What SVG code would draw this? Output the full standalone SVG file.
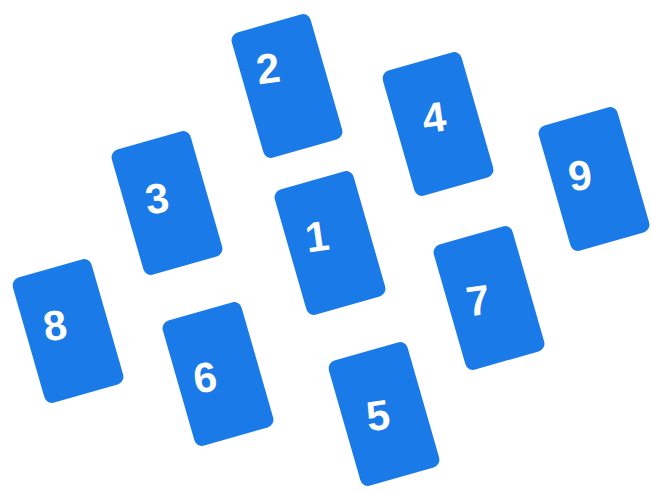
<svg xmlns="http://www.w3.org/2000/svg" width="651" height="491" viewBox="0 0 651 491">
<style>
.card{fill:#1A7AE8;}
.num{fill:#ffffff;font-family:"Liberation Sans","DejaVu Sans",sans-serif;font-weight:bold;font-size:42px;text-anchor:middle;}
</style>
<defs>
<rect id="c" class="card" x="-41" y="-65" width="82" height="130" rx="8"/>
</defs>
<rect width="651" height="491" fill="#ffffff"/>
<g id="card2"><use href="#c" transform="translate(287,86) rotate(-16)"/><text class="num" x="268" y="83" transform="rotate(-8 268 68)">2</text></g>
<g id="card4"><use href="#c" transform="translate(438,124) rotate(-16)"/><text class="num" x="434" y="132" transform="rotate(-8 434 117)">4</text></g>
<g id="card9"><use href="#c" transform="translate(594,179) rotate(-16)"/><text class="num" x="580" y="190" transform="rotate(-8 580 175)">9</text></g>
<g id="card3"><use href="#c" transform="translate(167,203) rotate(-16)"/><text class="num" x="157" y="213" transform="rotate(-8 157 198)">3</text></g>
<g id="card1"><use href="#c" transform="translate(330,243) rotate(-16)"/><text class="num" x="317" y="251" transform="rotate(-8 317 236)">1</text></g>
<g id="card7"><use href="#c" transform="translate(489,298) rotate(-16)"/><text class="num" x="478" y="315" transform="rotate(-8 478 300)">7</text></g>
<g id="card8"><use href="#c" transform="translate(68,331) rotate(-16)"/><text class="num" x="55" y="340" transform="rotate(-8 55 325)">8</text></g>
<g id="card6"><use href="#c" transform="translate(218,374) rotate(-16)"/><text class="num" x="205" y="392" transform="rotate(-8 205 377)">6</text></g>
<g id="card5"><use href="#c" transform="translate(384,414) rotate(-16)"/><text class="num" x="378" y="430" transform="rotate(-8 378 415)">5</text></g>
<g id="connectors"/>
</svg>
